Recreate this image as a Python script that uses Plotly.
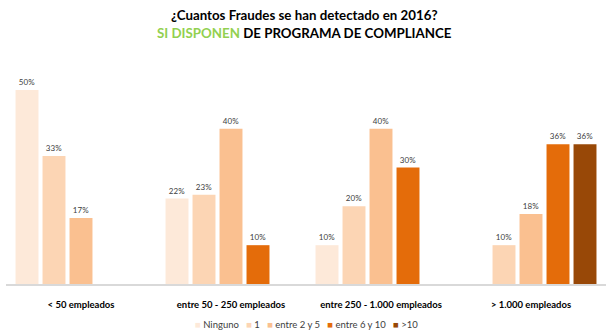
import plotly.graph_objects as go

categories = ["< 50 empleados", "entre 50 - 250 empleados", "entre 250 - 1.000 empleados", "> 1.000 empleados"]
series_names = ["Ninguno", "1", "entre 2 y 5", "entre 6 y 10", ">10"]
ninguno = [50, 22, 10, None]
uno = [33, 23, 20, 10]
entre_2_5 = [17, 40, 40, 18]
entre_6_10 = [None, 10, 30, 36]
mas_10 = [None, None, None, 36]
colors = ["#FDE9D9", "#FCD5B4", "#FAC090", "#E46C0A", "#984807"]

values = [ninguno, uno, entre_2_5, entre_6_10, mas_10]

TOP, BOTTOM = 60, 284  # plot area top/bottom in px
H = BOTTOM - TOP

def py(px):
    return (BOTTOM - px) / H

fig = go.Figure()
for name, vals, col in zip(series_names, values, colors):
    fig.add_trace(go.Bar(
        x=categories, y=vals, name=name,
        marker=dict(color=col, line=dict(width=0)),
        text=[f"{v}%" if v is not None else "" for v in vals],
        textposition="outside",
        textfont=dict(size=8, color="#404040", family="Lato"),
        cliponaxis=False,
        showlegend=False,
    ))

legend_html = "&nbsp;&nbsp;&nbsp;".join(
    f"<span style='color:{c}'>■</span>&nbsp;{n}" for n, c in zip(series_names, colors)
)

fig.update_layout(
    width=616, height=335,
    margin=dict(l=6, r=10, t=TOP, b=335 - BOTTOM, autoexpand=False),
    paper_bgcolor="white", plot_bgcolor="white",
    barmode="group", bargap=0.1, bargroupgap=0.15,
    font=dict(family="Lato", color="#000000"),
    xaxis=dict(
        showline=True, linecolor="#D9D9D9", linewidth=2,
        ticks="outside", ticklen=11, tickcolor="rgba(0,0,0,0)",
        tickfont=dict(size=9.5, family="Lato", color="#000000"),
        tickprefix="<b>", ticksuffix="</b>",
    ),
    yaxis=dict(range=[0, 57.7], visible=False),
    showlegend=False,
    annotations=[
        dict(text="<b>¿Cuantos Fraudes se han detectado en 2016?</b>",
             xref="paper", yref="paper", x=0.497, y=py(15), xanchor="center", yanchor="middle",
             showarrow=False, font=dict(size=13.3, family="Lato", color="#000000")),
        dict(text="<b><span style='color:#92D050'>SI DISPONEN</span> DE PROGRAMA DE COMPLIANCE</b>",
             xref="paper", yref="paper", x=0.497, y=py(33), xanchor="center", yanchor="middle",
             showarrow=False, font=dict(size=13.3, family="Lato", color="#000000")),
        dict(text=legend_html,
             xref="paper", yref="paper", x=0.5, y=py(324), xanchor="center", yanchor="middle",
             showarrow=False, font=dict(size=9.5, family="Lato", color="#404040")),
    ],
)

fig.write_html("out.html")
